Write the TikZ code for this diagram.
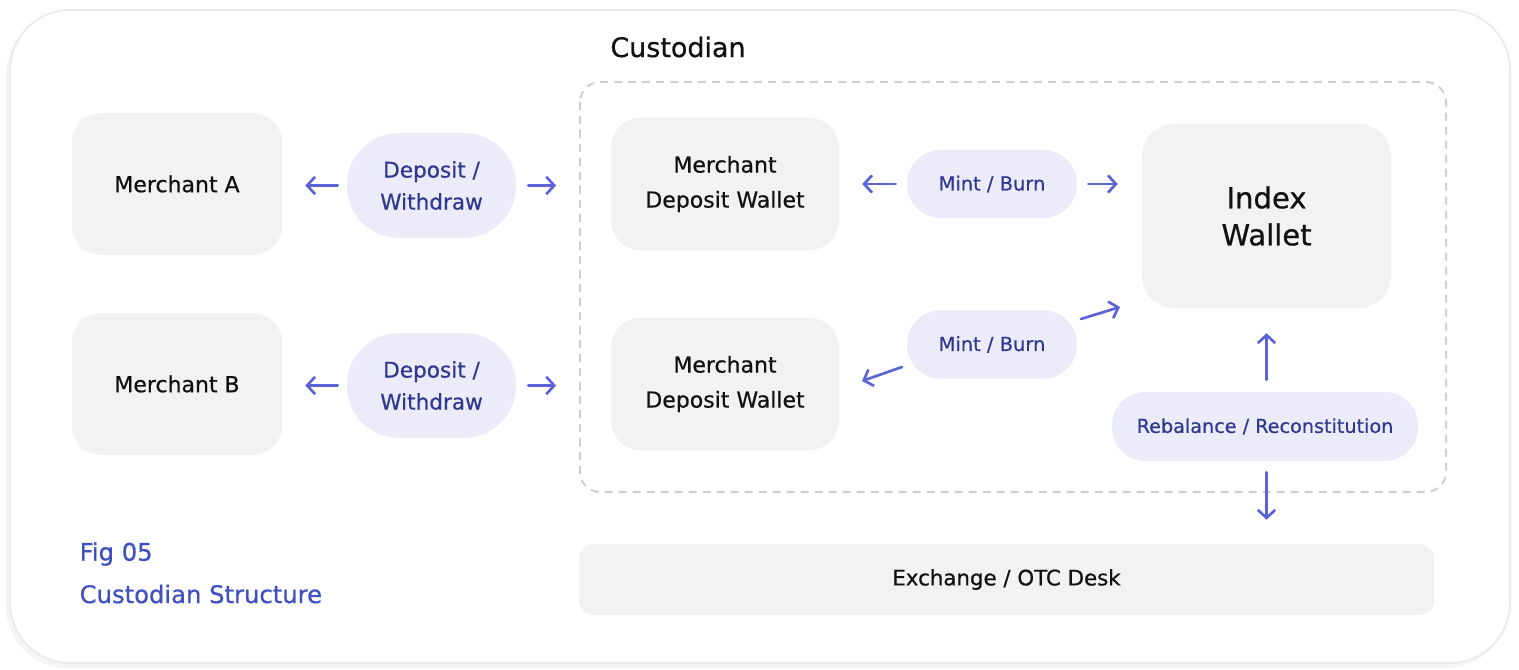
\documentclass[tikz,border=0pt]{standalone}
\usepackage{fontspec}
\setmainfont{DejaVu Sans}[BoldFont=DejaVu Sans, BoldFeatures={FakeBold=0.6}]
\usetikzlibrary{arrows.meta}
\definecolor{boxfill}{HTML}{F2F2F2}
\definecolor{pillfill}{HTML}{ECEBF9}
\definecolor{pilltext}{HTML}{2F3A8F}
\definecolor{arrowcol}{HTML}{5C63D8}
\definecolor{framecol}{HTML}{EBEBEB}
\definecolor{dashcol}{HTML}{D0D0D0}
\definecolor{figcol}{HTML}{3F50C0}
\definecolor{textcol}{HTML}{111111}
\tikzset{
  box/.style={fill=boxfill, draw=none, rounded corners=22pt, align=center, text=textcol,
    font=\fontsize{16.5}{26.25}\selectfont\bfseries},
  pill/.style={fill=pillfill, draw=none, align=center, text=pilltext},
  arr/.style={draw=arrowcol, line width=2pt, line cap=round,
    -{Straight Barb[length=6pt,width=13pt,line width=2pt]}},
}
\begin{document}
\begin{tikzpicture}[x=0.75pt,y=-0.75pt]
\useasboundingbox (0,0) rectangle (1519,670);
% outer frame with soft shadow
\fill[black!4, rounded corners=46pt] (6,14) rectangle (1508,668);
\fill[white, draw=framecol, line width=1.5pt, rounded corners=45pt] (10,10) rectangle (1510,663);
% custodian dashed region
\draw[dashcol, line width=1.5pt, dash pattern=on 6pt off 4.5pt, rounded corners=15pt] (580,82) rectangle (1446,492);
\node[font=\fontsize{20.2}{24}\selectfont\bfseries, text=textcol] (cust) at (678,47) {Custodian};

% merchants
\node[box, minimum width=157.5pt, minimum height=106.5pt] (ma) at (177,184) {\raisebox{-1.5pt}{Merchant A}};
\node[box, minimum width=157.5pt, minimum height=106.5pt] (mb) at (177,384) {\raisebox{-1.5pt}{Merchant B}};
% deposit wallets
\node[box, minimum width=171pt, minimum height=99pt] (dwa) at (725,184) {Merchant\\Deposit Wallet};
\node[box, minimum width=171pt, minimum height=99pt] (dwb) at (725,384) {Merchant\\Deposit Wallet};
% index wallet
\node[box, minimum width=186.75pt, minimum height=138pt, rounded corners=24pt,
  font=\fontsize{21.8}{27.75}\selectfont\bfseries] (iw) at (1266.5,216) {Index\\Wallet};
% exchange
\node[box, minimum width=641.25pt, minimum height=53.25pt, rounded corners=11pt,
  font=\fontsize{16}{20}\selectfont\bfseries] (ex) at (1006.5,579.5) {\raisebox{-1.5pt}{Exchange / OTC Desk}};

% pills
\node[pill, minimum width=126.75pt, minimum height=78.75pt, rounded corners=39pt,
  font=\fontsize{16.2}{24}\selectfont\bfseries] (pa) at (431.5,185.5) {Deposit /\\Withdraw};
\node[pill, minimum width=126.75pt, minimum height=78.75pt, rounded corners=39pt,
  font=\fontsize{16.2}{24}\selectfont\bfseries] (pb) at (431.5,385.5) {Deposit /\\Withdraw};
\node[pill, minimum width=127.5pt, minimum height=51pt, rounded corners=25pt,
  font=\fontsize{14.6}{17}\selectfont\bfseries] (mba) at (992,184) {\raisebox{-1pt}{Mint / Burn}};
\node[pill, minimum width=127.5pt, minimum height=51pt, rounded corners=25pt,
  font=\fontsize{14.6}{17}\selectfont\bfseries] (mbb) at (992,344.5) {\raisebox{-1pt}{Mint / Burn}};
\node[pill, minimum width=229.5pt, minimum height=51.75pt, rounded corners=25pt,
  font=\fontsize{14.4}{17}\selectfont\bfseries] (rb) at (1265,426.5) {\raisebox{-1pt}{Rebalance / Reconstitution}};

% figure caption
\node[anchor=west, text=figcol, font=\fontsize{18.2}{22}\selectfont\bfseries] (fig) at (75,554) {Fig 05};
\node[anchor=west, text=figcol, font=\fontsize{18.2}{22}\selectfont\bfseries] (cap) at (75,594) {Custodian Structure};

% connectors
\draw[arr, shorten <=6.75pt, shorten >=17.25pt] (pa.west) -- (ma.east |- pa.west);
\draw[arr, shorten <=9pt, shorten >=41pt] (pa.east) -- (dwa.west |- pa.east);
\draw[arr, shorten <=6.75pt, shorten >=17.25pt] (pb.west) -- (mb.east |- pb.west);
\draw[arr, shorten <=9pt, shorten >=41pt] (pb.east) -- (dwb.west |- pb.east);
\draw[arr, shorten <=8.25pt, shorten >=17.25pt] (mba.west) -- (dwa.east |- mba.west);
\draw[arr, shorten <=8.25pt, shorten >=18pt] (mba.east) -- (iw.west |- mba.east);
\coordinate (m2l) at (902,367);
\coordinate (m2le) at (862,381);
\coordinate (m2r) at (1081,319);
\coordinate (m2re) at (1120,307);
\draw[arr] (m2l) -- (m2le);
\draw[arr] (m2r) -- (m2re);
\draw[arr, shorten <=9pt, shorten >=18.75pt] (rb.north -| iw.south) -- (iw.south);
\draw[arr, shorten <=8.25pt, shorten >=18pt] (rb.south -| iw.south) -- (ex.north -| iw.south);
\end{tikzpicture}
\end{document}
